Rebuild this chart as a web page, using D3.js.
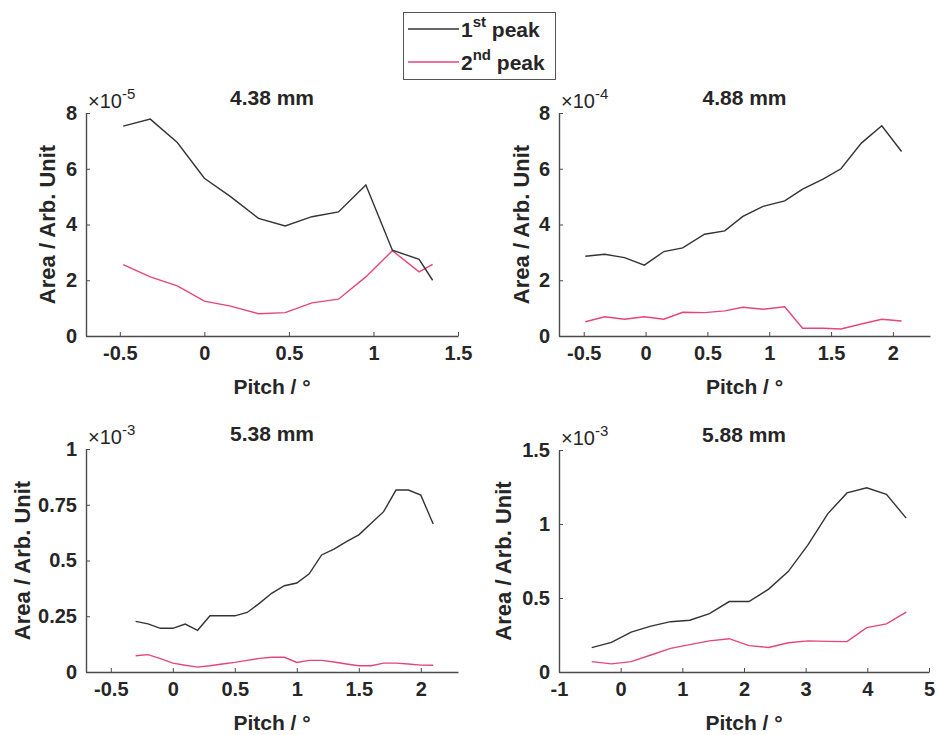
<!DOCTYPE html>
<html>
<head>
<meta charset="utf-8">
<script src="https://cdn.jsdelivr.net/npm/d3@7"></script>
<style>
  html, body { margin: 0; padding: 0; background: #fff; }
  svg { display: block; font-family: "Liberation Sans", Arial, sans-serif; }
</style>
</head>
<body>
<svg id="chart" width="938" height="735"></svg>
<script>
// ---------------- DATA ----------------
const titles = ["4.38 mm", "4.88 mm", "5.38 mm", "5.88 mm"];
const exponents = [-5, -4, -3, -3];
const seriesNames = ["1st peak", "2nd peak"];

const pitchA = [-0.48, -0.32, -0.16, 0.0, 0.155, 0.32, 0.478, 0.636, 0.793, 0.955, 1.112, 1.27, 1.35];
const peak1A = [7.53, 7.78, 6.94, 5.66, 5.0, 4.22, 3.95, 4.28, 4.45, 5.42, 3.08, 2.75, 2.0];
const peak2A = [2.56, 2.12, 1.8, 1.25, 1.07, 0.8, 0.84, 1.19, 1.32, 2.12, 3.06, 2.3, 2.57];

const pitchB = [-0.487, -0.33, -0.17, -0.01, 0.148, 0.30, 0.477, 0.64, 0.787, 0.95, 1.125, 1.27, 1.435, 1.58, 1.745, 1.91, 2.07];
const peak1B = [2.86, 2.93, 2.81, 2.54, 3.03, 3.16, 3.65, 3.77, 4.29, 4.65, 4.85, 5.27, 5.63, 6.0, 6.92, 7.54, 6.62];
const peak2B = [0.51, 0.69, 0.6, 0.69, 0.6, 0.85, 0.84, 0.9, 1.03, 0.96, 1.05, 0.28, 0.28, 0.25, 0.43, 0.6, 0.54];

const pitchC = [-0.3, -0.2, -0.1, 0.0, 0.1, 0.2, 0.3, 0.4, 0.5, 0.6, 0.7, 0.8, 0.9, 1.0, 1.1, 1.2, 1.3, 1.4, 1.5, 1.6, 1.7, 1.8, 1.9, 2.0, 2.1];
const peak1C = [0.227, 0.216, 0.196, 0.196, 0.215, 0.187, 0.252, 0.252, 0.252, 0.267, 0.309, 0.354, 0.387, 0.399, 0.44, 0.525, 0.551, 0.585, 0.615, 0.667, 0.719, 0.816, 0.816, 0.793, 0.664];
const peak2C = [0.073, 0.078, 0.06, 0.04, 0.03, 0.022, 0.028, 0.036, 0.043, 0.052, 0.061, 0.066, 0.066, 0.043, 0.052, 0.052, 0.045, 0.036, 0.028, 0.028, 0.04, 0.04, 0.036, 0.031, 0.03];

const pitchD = [-0.47, -0.15, 0.17, 0.49, 0.81, 1.12, 1.44, 1.76, 2.08, 2.40, 2.72, 3.04, 3.36, 3.67, 3.99, 4.31, 4.63];
const peak1D = [0.165, 0.20, 0.27, 0.31, 0.34, 0.35, 0.395, 0.476, 0.476, 0.56, 0.68, 0.86, 1.07, 1.21, 1.245, 1.20, 1.04];
const peak2D = [0.07, 0.055, 0.07, 0.115, 0.16, 0.185, 0.21, 0.225, 0.178, 0.166, 0.198, 0.21, 0.207, 0.205, 0.30, 0.325, 0.405];

const xDomains = [[-0.7, 1.5], [-0.7, 2.3], [-0.7, 2.3], [-1, 5]];
const yDomains = [[0, 8], [0, 8], [0, 1], [0, 1.5]];
const xTickVals = [[-0.5, 0, 0.5, 1, 1.5], [-0.5, 0, 0.5, 1, 1.5, 2], [-0.5, 0, 0.5, 1, 1.5, 2], [-1, 0, 1, 2, 3, 4, 5]];
const yTickVals = [[0, 2, 4, 6, 8], [0, 2, 4, 6, 8], [0, 0.25, 0.5, 0.75, 1], [0, 0.5, 1, 1.5]];

const pitches = [pitchA, pitchB, pitchC, pitchD];
const peak1s = [peak1A, peak1B, peak1C, peak1D];
const peak2s = [peak2A, peak2B, peak2C, peak2D];

// ---------------- LAYOUT / STYLE ----------------
const boxes = [
  { x0: 86, x1: 458, y0: 113, y1: 336, ylabX: 47 },
  { x0: 559, x1: 930, y0: 113, y1: 336, ylabX: 521 },
  { x0: 86, x1: 458, y0: 449, y1: 672, ylabX: 22 },
  { x0: 559, x1: 929, y0: 450, y1: 672, ylabX: 503 }
];
const colors = ["#333333", "#e6457c"];
const textColor = "#262626";
const axisColor = "#4a4a4a";

const svg = d3.select("#chart");
svg.append("rect").attr("width", 938).attr("height", 735).attr("fill", "#fff");

const fmt = v => (v === 0 ? "0" : String(v));

boxes.forEach((b, i) => {
  const x = d3.scaleLinear().domain(xDomains[i]).range([b.x0, b.x1]);
  const y = d3.scaleLinear().domain(yDomains[i]).range([b.y1, b.y0]);
  const g = svg.append("g");

  // x axis
  const xAxis = d3.axisBottom(x).tickValues(xTickVals[i]).tickSizeInner(-4).tickSizeOuter(0).tickPadding(9).tickFormat(fmt);
  const gx = g.append("g").attr("transform", `translate(0,${b.y1})`).call(xAxis);
  gx.select(".domain").attr("stroke", axisColor).attr("stroke-width", 1.4);
  gx.selectAll(".tick line").attr("stroke", axisColor).attr("stroke-width", 1);
  gx.selectAll(".tick text").attr("fill", textColor).attr("font-size", 20).attr("font-weight", "bold")
    .attr("font-family", "Liberation Sans, Arial, sans-serif").attr("dy", "0.75em");

  // y axis
  const yAxis = d3.axisLeft(y).tickValues(yTickVals[i]).tickSizeInner(-4).tickSizeOuter(0).tickPadding(9).tickFormat(fmt);
  const gy = g.append("g").attr("transform", `translate(${b.x0},0)`).call(yAxis);
  gy.select(".domain").attr("stroke", axisColor).attr("stroke-width", 1.4);
  gy.selectAll(".tick line").attr("stroke", axisColor).attr("stroke-width", 1);
  gy.selectAll(".tick text").attr("fill", textColor).attr("font-size", 20).attr("font-weight", "bold")
    .attr("font-family", "Liberation Sans, Arial, sans-serif");

  // lines
  const line = d3.line().x(d => x(d[0])).y(d => y(d[1]));
  const s1 = pitches[i].map((p, k) => [p, peak1s[i][k]]);
  const s2 = pitches[i].map((p, k) => [p, peak2s[i][k]]);
  g.append("path").datum(s2).attr("d", line).attr("fill", "none").attr("stroke", colors[1]).attr("stroke-width", 1.4);
  g.append("path").datum(s1).attr("d", line).attr("fill", "none").attr("stroke", colors[0]).attr("stroke-width", 1.4);

  // title
  g.append("text").attr("x", (b.x0 + b.x1) / 2).attr("y", b.y0 - 8).attr("text-anchor", "middle")
    .attr("font-size", 21).attr("font-weight", "bold").attr("fill", textColor).text(titles[i]);

  // exponent
  const ex = g.append("text").attr("x", b.x0 + 2).attr("y", b.y0 - 5).attr("font-size", 20).attr("fill", textColor);
  ex.append("tspan").text("\u00d710");
  ex.append("tspan").attr("dy", -9).attr("font-size", 15).text(String(exponents[i]));

  // x label
  g.append("text").attr("x", (b.x0 + b.x1) / 2).attr("y", b.y1 + 58).attr("text-anchor", "middle")
    .attr("font-size", 21).attr("font-weight", "bold").attr("fill", textColor).text("Pitch / \u00b0");

  // y label
  g.append("text").attr("transform", `translate(${b.ylabX},${(b.y0 + b.y1) / 2}) rotate(-90)`)
    .attr("text-anchor", "middle").attr("dy", "0.35em")
    .attr("font-size", 22).attr("font-weight", "bold").attr("fill", textColor).text("Area / Arb. Unit");
});

// legend
const lg = svg.append("g");
lg.append("rect").attr("x", 403.5).attr("y", 12.5).attr("width", 152).attr("height", 67)
  .attr("fill", "#fff").attr("stroke", "#555").attr("stroke-width", 1);
const legendRows = [
  { base: "1", sup: "st", rest: " peak", y: 29, color: colors[0] },
  { base: "2", sup: "nd", rest: " peak", y: 62, color: colors[1] }
];
legendRows.forEach(r => {
  lg.append("line").attr("x1", 408).attr("x2", 459).attr("y1", r.y).attr("y2", r.y)
    .attr("stroke", r.color).attr("stroke-width", 1.4);
  const t = lg.append("text").attr("x", 461).attr("y", r.y + 8).attr("font-size", 21)
    .attr("font-weight", "bold").attr("fill", textColor);
  t.append("tspan").text(r.base);
  t.append("tspan").attr("dy", -10).attr("font-size", 15).text(r.sup);
  t.append("tspan").attr("dy", 10).text(r.rest);
});
</script>
</body>
</html>
